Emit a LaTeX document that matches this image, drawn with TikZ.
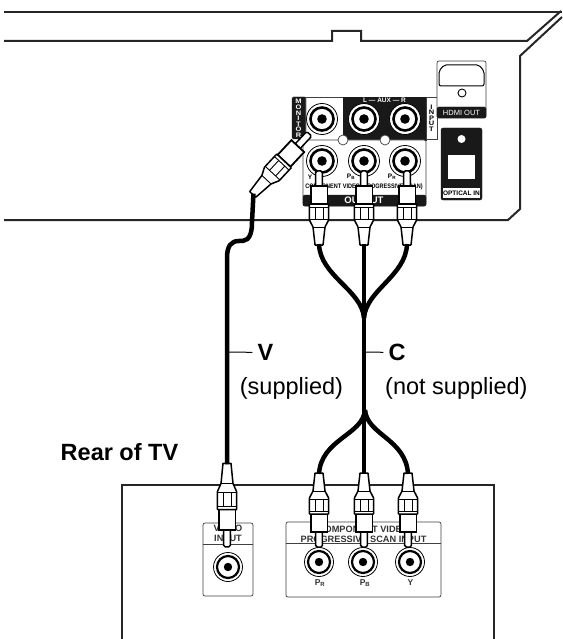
\documentclass[tikz,border=0pt]{standalone}
\usepackage{fontspec}
\setmainfont{Liberation Sans}
\tikzset{
	body/.style={line width=2pt, black!85},
	thin line/.style={line width=0.7pt, black!75},
	dark panel/.style={fill=black!90, draw=black!90},
	cable/.style={line width=4.5pt, black},
	plugline/.style={line width=1.5pt, black, fill=white},
	tag/.style={font=\bfseries\fontsize{6.5}{7}\selectfont, inner sep=0pt},
	whitetag/.style={tag, white},
	stacked/.style={tag, align=center, font=\bfseries\fontsize{6.5}{5.6}\selectfont, xscale=1.15},
	paneltext/.style={font=\bfseries\fontsize{9.2}{9}\selectfont, black!80, inner sep=0pt},
	caption/.style={font=\fontsize{23.5}{24}\selectfont, inner sep=0pt},
	mark label/.style={font=\bfseries\fontsize{23.5}{24}\selectfont, inner sep=5pt},
	plug/.pic={
		\draw[plugline, rounded corners=1.5pt] (-3.3,17) -- (-3.3,1) -- (3.3,1) -- (3.3,17);
		\draw[plugline, line width=1.8pt] (-8.4,16) rectangle (8.4,34);
		\draw[plugline, rounded corners=0.5pt] (-9.6,34) -- (-9.6,50) -- (-6,57) -- (-4,75) -- (4,75) -- (6,57) -- (9.6,50) -- (9.6,34) -- cycle;
		\draw[line width=0.9pt] (-9.6,37) -- (9.6,37) (-9.6,49) -- (9.6,49) (-6,57) -- (6,57);
		\draw[line width=0.9pt] (-4,37) -- (-4,49) (4,37) -- (4,49);
		\coordinate (-end) at (0,74);
	},
	jack/.pic={
		\draw[fill=white, line width=0.8pt] (0,0) circle (15.5);
		\draw[line width=2.6pt] (0,0) circle (11.5);
		\fill (0,0) circle (4.8);
	},
	tvjack/.pic={
		\draw[fill=white, line width=0.8pt] (0,0) circle (14.5);
		\draw[line width=2.2pt] (0,0) circle (11);
		\fill (0,0) circle (4.2);
	}
}
\begin{document}
\begin{tikzpicture}[x=1pt, y=-1pt]
			\useasboundingbox[fill=white] (0,0) rectangle (562,639);
			\draw[body] (4,12) -- (562,12);
			\draw[body] (4,41) -- (332,41) -- (332,31) -- (361,31) -- (361,41) -- (527,41) -- (561,11);
			\draw[body] (4,220) -- (508,220) -- (520,209) -- (520,56) -- (562,17);

			\draw[dark panel, rounded corners=1.5pt] (292,97) rectangle (306,139);
			\draw[thin line] (305,97) rectangle (343,140);
			\draw[dark panel] (343,97) rectangle (426,140);
			\draw[thin line] (426,97) rectangle (437,139);
			\draw[thin line, fill=white, rounded corners=2pt] (303,140) rectangle (426,206);
			\draw[dark panel, rounded corners=2pt] (303,195) rectangle (426,206);
			\node[stacked, text=white] (monitor) at (298.5,118.5) {M\\O\\N\\I\\T\\O\\R};
			\node[stacked, text=black] (input) at (431.5,118) {I\\N\\P\\U\\T};
			\node[whitetag] (aux) at (384.5,100.5) {L — AUX — R};
			\node[tag] (yout) at (310,177) {Y};
			\node[tag] (pbout) at (351,177) {P\textsubscript{B}};
			\node[tag] (prout) at (392,177) {P\textsubscript{R}};
			\node[tag, xscale=0.85] (component) at (364,187) {COMPONENT VIDEO (PROGRESSIVE SCAN)};
			\node[font=\bfseries\fontsize{9.5}{9.5}\selectfont, white, inner sep=0pt] (output) at (364,200.5) {OUTPUT};
			\pic at (322,119) {jack};
			\pic at (364,119) {jack};
			\pic at (405,119) {jack};
			\pic at (322,161) {jack};
			\pic at (364,161) {jack};
			\pic at (405,161) {jack};
			\draw[thin line, fill=white] (343,140) circle (5);
			\draw[thin line, fill=white] (385,140) circle (5);

			\draw[thin line, fill=white, rounded corners=2pt] (437,61) rectangle (486,118);
			\draw[dark panel, rounded corners=1.5pt] (437,107) rectangle (486,118);
			\draw[line width=1pt, rounded corners=2pt] (444,65) -- (479,65) -- (484,71) -- (484,86) -- (439,86) -- (439,71) -- cycle;
			\draw[line width=0.9pt] (462,93) circle (4);
			\node[font=\fontsize{7.5}{7.5}\selectfont, white, inner sep=0pt] (hdmi) at (461.5,112.5) {HDMI OUT};
			\draw[dark panel, rounded corners=2pt] (441,128) rectangle (482,200);
			\fill[white] (448,155) rectangle (475,179);
			\fill[white] (461.5,139) circle (4);
			\fill[white] (443,188) rectangle (480,198);
			\node[tag] (optical) at (461.5,193.5) {OPTICAL IN};

			\draw[body] (122,639) -- (122,485) -- (494,485) -- (494,639);
			\draw[thin line, rounded corners=2pt] (203,523) rectangle (253,596);
			\draw[thin line] (203,544) -- (253,544);
			\draw[thin line, rounded corners=2pt] (286,522) rectangle (441,597);
			\draw[thin line] (286,543) -- (441,543);
			\node[paneltext] (video) at (228,528.5) {VIDEO};
			\node[paneltext] (inputtv) at (228,538.5) {INPUT};
			\node[paneltext] (comptv) at (363.5,529) {COMPONENT VIDEO};
			\node[paneltext] (progtv) at (363.5,539) {PROGRESSIVE SCAN INPUT};
			\node[tag, black!80, font=\bfseries\fontsize{8.5}{8.5}\selectfont] (prtv) at (320,583) {P\textsubscript{R}};
			\node[tag, black!80, font=\bfseries\fontsize{8.5}{8.5}\selectfont] (pbtv) at (365,583) {P\textsubscript{B}};
			\node[tag, black!80, font=\bfseries\fontsize{8.5}{8.5}\selectfont] (ytv) at (410.5,583) {Y};
			\pic at (228,567) {tvjack};
			\pic at (319,562) {tvjack};
			\pic at (363,562) {tvjack};
			\pic at (410,562) {tvjack};

			\coordinate (mergetop) at (364,318);
			\coordinate (mergebot) at (365,410);
			\coordinate (bendmon) at (252,222);
			\coordinate (bendvid) at (227,258);
			\pic[rotate=-43, yscale=1.12, xscale=1.04] (plugmon) at (310,133) {plug};
			\pic (plugy) at (319,170) {plug};
			\pic (plugb) at (364,170) {plug};
			\pic (plugr) at (407,170) {plug};
			\pic[rotate=180, yscale=1.13] (plugvid) at (227,548) {plug};
			\pic[rotate=180] (plugrtv) at (319,548) {plug};
			\pic[rotate=180] (plugbtv) at (364,548) {plug};
			\pic[rotate=180] (plugytv) at (408,548) {plug};

			\draw[cable] (plugmon-end) -- (bendmon) .. controls +(0,20) and +(5,0) .. (239,241) .. controls +(-8,0) and +(0,-12) .. (bendvid) -- (plugvid-end);
			\draw[cable] (plugy-end) .. controls +(1,32) and +(-2,-28) .. (mergetop);
			\draw[cable] (plugr-end) .. controls +(-1,32) and +(2,-28) .. (mergetop);
			\draw[cable, line width=4pt] (plugb-end) -- (plugbtv-end);
			\draw[cable] (plugrtv-end) .. controls +(2,-35) and +(-2,25) .. (mergebot);
			\draw[cable] (plugytv-end) .. controls +(-2,-35) and +(2,25) .. (mergebot);

			\node[mark label] (labv) at (265.5,352.5) {V};
			\node[mark label] (labc) at (397,352.5) {C};
			\coordinate (tickv) at (227,352);
			\coordinate (tickc) at (364,352);
			\draw[line width=1pt] (tickv) -- (labv);
			\draw[line width=1pt] (tickc) -- (labc);
			\node[caption] (supplied) at (291.5,388) {(supplied)};
			\node[caption, anchor=west] (notsupplied) at (385,388) {(not supplied)};
			\node[mark label] (rear) at (119.5,452) {Rear of TV};
		\end{tikzpicture}
\end{document}
